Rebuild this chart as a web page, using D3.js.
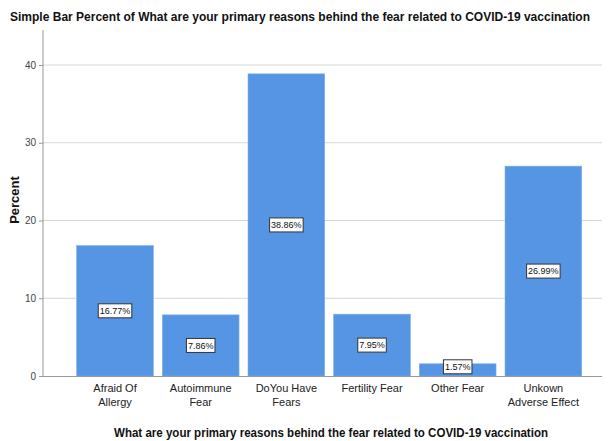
<!DOCTYPE html>
<html><head><meta charset="utf-8">
<script src="https://cdn.jsdelivr.net/npm/d3@7"></script>
<style>body{margin:0;background:#fff}svg{display:block;font-family:"Liberation Sans",Arial,sans-serif}</style>
</head><body><svg id="c" width="613" height="441"></svg>
<script>
const categories = [["Afraid Of","Allergy"],["Autoimmune","Fear"],["DoYou Have","Fears"],["Fertility Fear"],["Other Fear"],["Unkown","Adverse Effect"]];
const values = [16.77, 7.86, 38.86, 7.95, 1.57, 26.99];
const yTicks = [0, 10, 20, 30, 40];
const title = "Simple Bar Percent of What are your primary reasons behind the fear related to COVID-19 vaccination";
const xTitle = "What are your primary reasons behind the fear related to COVID-19 vaccination";
const yTitle = "Percent";

const svg = d3.select("#c");
const axisX = 43, plotRight = 602, y0 = 376;
const y = d3.scaleLinear().domain([0, 40]).range([y0, 65]);
const keys = categories.map((c,i)=>i);
const x = d3.scaleBand().domain(keys).range([72.2, 586.2]).paddingInner(0.105).paddingOuter(0.0525);

// gridlines
svg.append("g").selectAll("line").data(yTicks.filter(d=>d>0)).join("line")
  .attr("x1", axisX).attr("x2", plotRight).attr("y1", d=>y(d)).attr("y2", d=>y(d))
  .attr("stroke", "#d6d6d6").attr("stroke-width", 1);

// bars
svg.append("g").selectAll("rect").data(values).join("rect")
  .attr("x", (d,i)=>x(i)).attr("width", x.bandwidth())
  .attr("y", d=>y(d)).attr("height", d=>y0 - y(d))
  .attr("fill", "#5595e3").attr("stroke", "#7aaeea").attr("stroke-width", 0.6);

// axes
const yAxis = d3.axisLeft(y).tickValues(yTicks).tickSize(4).tickPadding(3).tickFormat(d3.format("d"));
const gy = svg.append("g").attr("transform", `translate(${axisX},0)`).call(yAxis);
gy.select(".domain").remove();
gy.selectAll(".tick line").attr("stroke", "#999");
gy.selectAll("text").attr("font-size", 10).attr("fill", "#444").attr("font-family", "Liberation Sans, Arial");
svg.append("line").attr("x1", axisX).attr("x2", axisX).attr("y1", 30).attr("y2", y0).attr("stroke", "#999");
svg.append("line").attr("x1", axisX).attr("x2", plotRight).attr("y1", y0+0.5).attr("y2", y0+0.5).attr("stroke", "#999").attr("stroke-width", 1.2);

// x labels
const xl = svg.append("g").selectAll("text").data(categories).join("text")
  .attr("x", (d,i)=>x(i)+x.bandwidth()/2).attr("y", 392)
  .attr("text-anchor", "middle").attr("font-size", 11).attr("fill", "#222");
xl.selectAll("tspan").data(d=>d).join("tspan")
  .attr("x", function(){return this.parentNode.getAttribute("x");})
  .attr("dy", (d,i)=>i===0?0:14).text(d=>d);

// value labels
const lab = svg.append("g").selectAll("g").data(values).join("g")
  .attr("transform", (d,i)=>`translate(${x(i)+x.bandwidth()/2},${d < 4 ? y(d)+3 : (y(d)+y0)/2})`);
lab.append("text").attr("text-anchor", "middle").attr("dy", "0.35em")
  .attr("font-size", 9).attr("fill", "#111").text(d=>d.toFixed(2)+"%")
  .each(function(){
    const b = this.getBBox();
    d3.select(this.parentNode).insert("rect","text")
      .attr("x", b.x-1.5).attr("y", -7).attr("width", b.width+3).attr("height", 14)
      .attr("fill", "#fff").attr("stroke", "#333").attr("stroke-width", 1);
  });

// titles
svg.append("text").attr("x", 300).attr("y", 21).attr("text-anchor", "middle")
  .attr("font-size", 12.5).attr("font-weight", "bold").attr("fill", "#111")
  .attr("textLength", 580).attr("lengthAdjust", "spacingAndGlyphs").text(title);
svg.append("text").attr("x", 331).attr("y", 437).attr("text-anchor", "middle")
  .attr("font-size", 12.5).attr("font-weight", "bold").attr("fill", "#111")
  .attr("textLength", 434).attr("lengthAdjust", "spacingAndGlyphs").text(xTitle);
svg.append("text").attr("transform", "translate(19,200) rotate(-90)").attr("text-anchor", "middle")
  .attr("font-size", 13).attr("font-weight", "bold").attr("fill", "#111").text(yTitle);
</script></body></html>
